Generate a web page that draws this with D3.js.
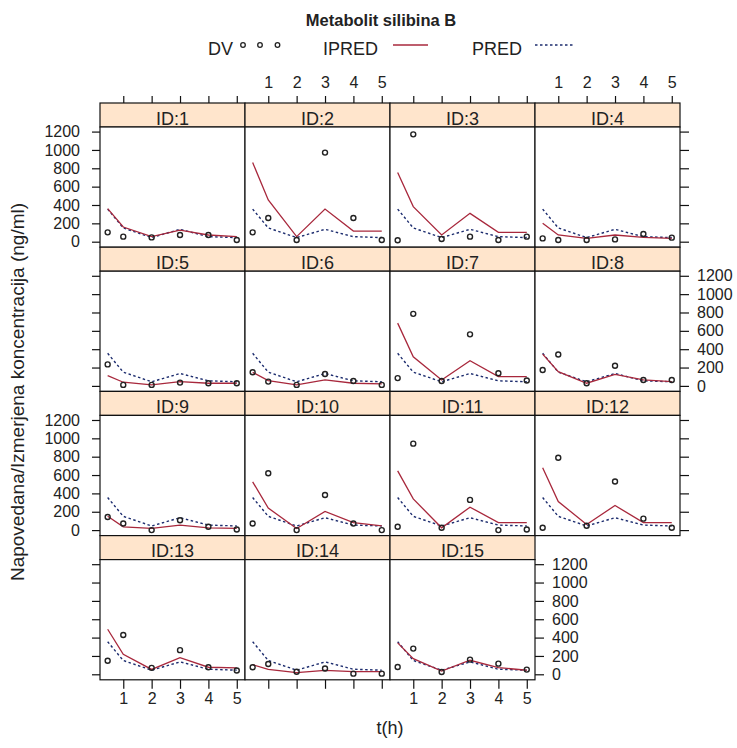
<!DOCTYPE html>
<html>
<head>
<meta charset="utf-8">
<script src="https://cdn.jsdelivr.net/npm/d3@7"></script>
<style>
  body { margin: 0; background: #fff; }
  svg { display: block; }
  text { font-family: "Liberation Sans", Arial, sans-serif; fill: #222; }
</style>
</head>
<body>
<svg id="chart" width="737" height="748"></svg>
<script>
// Subjects, sampling times and concentrations (ng/ml)
const ids = [1, 2, 3, 4, 5, 6, 7, 8, 9, 10, 11, 12, 13, 14, 15];
const times = [0.45, 1, 2, 3, 4, 5];
// Population prediction (same for every subject)
const pred = [355, 150, 45, 135, 55, 45];
// Observed concentrations per subject
const dv = [
  [102, 55, 47, 73, 73, 18],
  [102, 258, 18, 971, 258, 18],
  [15, 1170, 29, 55, 18, 55],
  [36, 18, 18, 25, 84, 44],
  [234, 11, 11, 36, 29, 29],
  [148, 47, 11, 130, 54, 11],
  [85, 785, 54, 562, 137, 58],
  [173, 342, 29, 220, 65, 65],
  [143, 72, 0, 107, 36, 7],
  [72, 619, 0, 383, 72, 0],
  [36, 942, 25, 329, 0, 7],
  [25, 788, 47, 530, 125, 25],
  [147, 428, 70, 263, 77, 42],
  [77, 112, 28, 63, 7, 7],
  [79, 280, 25, 160, 116, 51]
];
// Individual predictions per subject
const ipred = [
  [360, 160, 55, 127, 73, 55],
  [862, 455, 55, 356, 116, 116],
  [753, 382, 73, 309, 102, 102],
  [200, 73, 36, 73, 47, 36],
  [112, 40, 11, 47, 29, 29],
  [148, 58, 11, 65, 29, 22],
  [684, 317, 65, 274, 101, 101],
  [346, 155, 29, 126, 65, 47],
  [150, 36, 18, 54, 25, 18],
  [526, 240, 18, 204, 82, 47],
  [645, 340, 25, 250, 82, 82],
  [680, 311, 61, 268, 82, 82],
  [491, 218, 53, 182, 77, 70],
  [105, 53, 18, 42, 28, 28],
  [342, 171, 36, 153, 73, 44]
];
const xTicks = [1, 2, 3, 4, 5];
const yTicks = [0, 200, 400, 600, 800, 1000, 1200];

const ipredColor = "#a8283c";
const predColor = "#1c2c6e";
const nCol = 4, nRow = 4;
const gridLeft = 100, colW = 145, gridTop = 103, rowH = 144.2, stripH = 24;
const plotH = rowH - stripH;

const svg = d3.select("#chart");

const x = d3.scaleLinear().domain([0.18, 5.29]).range([0, colW]);
const y = d3.scaleLinear().domain([-60, 1250]).range([plotH, 0]);

const lineOf = vals => d3.line()
  .x((d, i) => x(times[i]))
  .y(d => y(d))(vals);

// Title and key
svg.append("text").attr("x", 381).attr("y", 26).attr("text-anchor", "middle")
  .style("font-size", "16.5px").style("font-weight", "bold").text("Metabolit silibina B");

const key = svg.append("g");
key.append("text").attr("x", 208).attr("y", 55).style("font-size", "18px").text("DV");
[243, 260, 277.5].forEach(cx => key.append("circle").attr("cx", cx).attr("cy", 45).attr("r", 2.3)
  .attr("fill", "none").attr("stroke", "#222").attr("stroke-width", 1.3));
key.append("text").attr("x", 323).attr("y", 55).style("font-size", "18px").text("IPRED");
key.append("line").attr("x1", 393).attr("x2", 428).attr("y1", 45).attr("y2", 45)
  .attr("stroke", ipredColor).attr("stroke-width", 1.4);
key.append("text").attr("x", 472).attr("y", 55).style("font-size", "18px").text("PRED");
key.append("line").attr("x1", 535).attr("x2", 573).attr("y1", 45).attr("y2", 45)
  .attr("stroke", predColor).attr("stroke-width", 1.4).attr("stroke-dasharray", "2.5,2.5");

function styleAxis(g) {
  g.select(".domain").remove();
  g.selectAll(".tick line").attr("stroke", "#111").attr("stroke-width", 1.2);
  g.selectAll(".tick text").style("font-size", "16px").attr("fill", "#222");
}
const blank = () => "";

ids.forEach((id, k) => {
  const c = k % nCol, r = Math.floor(k / nCol);
  const g = svg.append("g").attr("transform", `translate(${gridLeft + c * colW},${gridTop + r * rowH})`);

  // strip
  g.append("rect").attr("width", colW).attr("height", stripH)
    .attr("fill", "#ffe5cc").attr("stroke", "#111").attr("stroke-width", 1.2);
  g.append("text").attr("x", colW / 2).attr("y", stripH - 2.5).attr("text-anchor", "middle")
    .style("font-size", "18px").text("ID:" + id);

  const p = g.append("g").attr("transform", `translate(0,${stripH})`);
  p.append("rect").attr("width", colW).attr("height", plotH).attr("fill", "#fff");

  p.append("path").attr("d", lineOf(pred)).attr("fill", "none")
    .attr("stroke", predColor).attr("stroke-width", 1.4).attr("stroke-dasharray", "2.5,2.5");
  p.append("path").attr("d", lineOf(ipred[k])).attr("fill", "none")
    .attr("stroke", ipredColor).attr("stroke-width", 1.3);
  p.selectAll("circle").data(dv[k]).join("circle")
    .attr("cx", (d, i) => x(times[i])).attr("cy", d => y(d)).attr("r", 2.5)
    .attr("fill", "none").attr("stroke", "#222").attr("stroke-width", 1.4);

  p.append("rect").attr("width", colW).attr("height", plotH)
    .attr("fill", "none").attr("stroke", "#111").attr("stroke-width", 1.2);

  // top axis on first row
  if (r === 0) {
    g.append("g").call(d3.axisTop(x).tickValues(xTicks).tickSize(7).tickPadding(8)
      .tickFormat(c % 2 === 1 ? d3.format("d") : blank)).call(styleAxis);
  }
  // bottom axis under last row
  if (r === nRow - 1) {
    p.append("g").attr("transform", `translate(0,${plotH})`)
      .call(d3.axisBottom(x).tickValues(xTicks).tickSize(9).tickPadding(4)
        .tickFormat(c % 2 === 0 ? d3.format("d") : blank)).call(styleAxis);
  }
  // left axis on first column
  if (c === 0) {
    p.append("g").call(d3.axisLeft(y).tickValues(yTicks).tickSize(8).tickPadding(12)
      .tickFormat(r % 2 === 0 ? d3.format("d") : blank)).call(styleAxis);
  }
  // right axis on last panel of each row
  const lastInRow = c === nCol - 1 || k === ids.length - 1;
  if (lastInRow) {
    p.append("g").attr("transform", `translate(${colW},0)`)
      .call(d3.axisRight(y).tickValues(yTicks).tickSize(9).tickPadding(8)
        .tickFormat(r % 2 === 1 ? d3.format("d") : blank)).call(styleAxis);
  }
});

// axis titles
svg.append("text").attr("transform", "translate(17,392) rotate(-90)").attr("text-anchor", "middle")
  .attr("dy", "0.35em").style("font-size", "19px").text("Napovedana/Izmerjena koncentracija (ng/ml)");
svg.append("text").attr("x", 390).attr("y", 734).attr("text-anchor", "middle")
  .style("font-size", "18px").text("t(h)");
</script>
</body>
</html>
